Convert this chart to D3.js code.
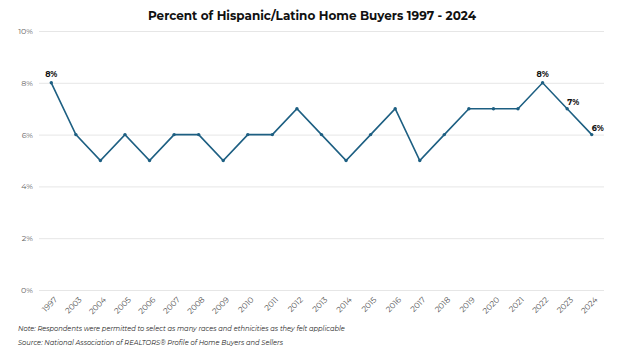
<!DOCTYPE html>
<html><head><meta charset="utf-8">
<script src="https://cdn.jsdelivr.net/npm/d3@7"></script>
<style>body{margin:0;background:#fff}svg{display:block}</style>
</head><body><svg id="c" width="624" height="352"></svg>
<script>
const years = ["1997","2003","2004","2005","2006","2007","2008","2009","2010","2011","2012","2013","2014","2015","2016","2017","2018","2019","2020","2021","2022","2023","2024"];
const values = [8,6,5,6,5,6,6,5,6,6,7,6,5,6,7,5,6,7,7,7,8,7,6];
const yTicks = [0,2,4,6,8,10];
const labeledYears = ["1997","2022","2023","2024"];

const svg = d3.select("#c");
const font = "Montserrat, 'Open Sans', Lato, sans-serif";
const x = d3.scalePoint().domain(years).range([39,604]).padding(0.5);
const y = d3.scaleLinear().domain([0,10]).range([290,31]);

svg.append("text").attr("x",312).attr("y",20).attr("text-anchor","middle")
  .attr("font-family",font).attr("font-weight","bold").attr("font-size",12).attr("fill","#111")
  .text("Percent of Hispanic/Latino Home Buyers 1997 - 2024");

const ya = svg.append("g").attr("transform","translate(39,0)")
  .call(d3.axisLeft(y).tickValues(yTicks).tickSize(-565).tickFormat(d=>d+"%"));
ya.select(".domain").remove();
ya.selectAll(".tick line").attr("stroke","#e6e6e6");
ya.selectAll(".tick text").attr("x",-6).attr("font-family",font).attr("font-size",8).attr("fill","#666");

const xa = svg.append("g").attr("transform","translate(0,296)")
  .call(d3.axisBottom(x).tickSize(0));
xa.select(".domain").remove();
xa.selectAll(".tick text").attr("font-family",font).attr("font-size",8).attr("fill","#555")
  .attr("text-anchor","end").attr("transform","rotate(-45)").attr("dx","-0.1em").attr("dy","0.9em").attr("y",0).attr("x",2);

const data = years.map((yr,i)=>({yr,v:values[i]}));
svg.append("path").datum(data)
  .attr("fill","none").attr("stroke","#1d5f82").attr("stroke-width",1.6)
  .attr("d", d3.line().x(d=>x(d.yr)).y(d=>y(d.v)));
svg.selectAll("circle.pt").data(data).join("circle").attr("class","pt")
  .attr("cx",d=>x(d.yr)).attr("cy",d=>y(d.v)).attr("r",1.7).attr("fill","#1d5f82");

const lab = data.filter(d=>labeledYears.includes(d.yr));
svg.selectAll("text.lbl").data(lab).join("text").attr("class","lbl")
  .attr("x",d=>x(d.yr) + (d.yr==="2023"||d.yr==="2024" ? 6 : 0))
  .attr("y",d=>y(d.v) - (d.yr==="2023"||d.yr==="2024" ? 4 : 6))
  .attr("text-anchor","middle")
  .attr("font-family",font).attr("font-weight","bold").attr("font-size",8).attr("fill","#111")
  .text(d=>d.v+"%");

svg.append("text").attr("x",18).attr("y",331).attr("font-family",font).attr("font-style","italic")
  .attr("font-size",6.7).attr("fill","#222")
  .text("Note: Respondents were permitted to select as many races and ethnicities as they felt applicable");
svg.append("text").attr("x",18).attr("y",345).attr("font-family",font).attr("font-style","italic")
  .attr("font-size",6.7).attr("fill","#222")
  .text("Source: National Association of REALTORS® Profile of Home Buyers and Sellers");
</script></body></html>
